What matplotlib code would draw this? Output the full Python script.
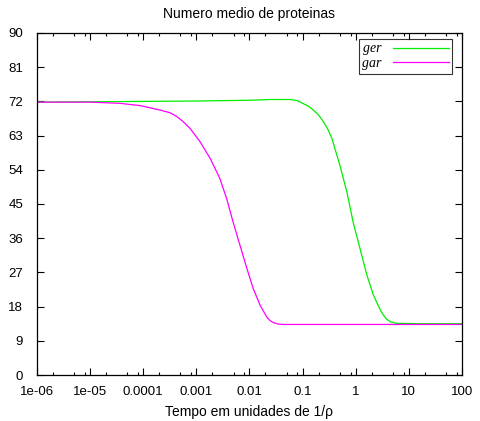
import matplotlib
matplotlib.use("Agg")
import matplotlib.pyplot as plt
from matplotlib.ticker import LogLocator, NullFormatter

# Data
gar_t = [1e-6, 1e-5, 3.6e-5, 8.7e-5, 2.1e-4, 3.2e-4, 4.3e-4, 5.6e-4, 7.6e-4,
         1.17e-3, 1.82e-3, 2.75e-3, 3.7e-3, 4.9e-3, 6.6e-3, 8.9e-3, 1.17e-2,
         1.58e-2, 1.85e-2, 2.1e-2, 2.4e-2, 2.8e-2, 3.5e-2, 4.4e-2, 0.1, 100]
gar_n = [71.8, 71.8, 71.5, 70.9, 69.7, 69.0, 68.0, 66.7, 64.9,
         61.4, 57.0, 51.8, 46.5, 40.3, 34.2, 28.1, 22.8,
         18.4, 16.7, 15.3, 14.4, 13.8, 13.4, 13.3, 13.3, 13.3]

ger_t = [1e-6, 1e-5, 1e-4, 1e-3, 1e-2, 0.025, 0.058, 0.08, 0.10, 0.13, 0.16,
         0.2, 0.245, 0.3, 0.355, 0.50, 0.68, 0.89, 1.2, 1.62, 2.14, 2.9, 3.3,
         3.8, 4.5, 5.9, 16, 100]
ger_n = [71.8, 71.9, 72.0, 72.1, 72.3, 72.5, 72.5, 72.2, 71.5, 70.7, 69.7,
         68.4, 66.7, 64.6, 62.3, 55.3, 48.2, 40.3, 33.3, 26.3, 21.1, 17.1, 15.8,
         14.7, 14.0, 13.6, 13.5, 13.5]

xticks = [1e-6, 1e-5, 1e-4, 1e-3, 1e-2, 1e-1, 1, 10, 100]
xticklabels = ["1e-06", "1e-05", "0.0001", "0.001", "0.01", "0.1", "1", "10", "100"]
yticks = [0, 9, 18, 27, 36, 45, 54, 63, 72, 81, 90]

plt.rcParams['font.family'] = ['Liberation Sans', 'DejaVu Sans']

fig = plt.figure(figsize=(4.8, 4.21), dpi=100)
ax = fig.add_axes([37/480, 46/421, (462-37)/480, (375-33)/421])

ax.plot(ger_t, ger_n, color='#00ee00', lw=0.9, label='ger')
ax.plot(gar_t, gar_n, color='#ff00ff', lw=0.9, label='gar')

ax.set_xscale('log')
ax.set_xlim(1e-6, 100)
ax.set_ylim(0, 90)
ax.set_xticks(xticks)
ax.set_xticklabels(xticklabels)
ax.xaxis.set_minor_locator(LogLocator(base=10, subs=[2, 5, 8], numticks=20))
ax.xaxis.set_minor_formatter(NullFormatter())
ax.set_yticks(yticks)

ax.tick_params(which='both', direction='in', top=True, right=True, labelsize=9.5)
ax.tick_params(axis='x', pad=8)
ax.tick_params(axis='y', pad=10)
ax.tick_params(which='major', length=5, width=0.8)
ax.tick_params(which='minor', length=2.5, width=0.8)
for s in ax.spines.values():
    s.set_linewidth(0.9)

ax.set_title("Numero medio de proteinas", fontsize=10, pad=11)
ax.set_xlabel("Tempo em unidades de 1/\u03c1", fontsize=10, labelpad=5)

leg = ax.legend(loc='upper right', bbox_to_anchor=(452/480, 1 - 39/421),
                bbox_transform=fig.transFigure,
                markerfirst=False, frameon=True, fancybox=False, handlelength=4.0,
                borderpad=0.25, labelspacing=0.12, handletextpad=0.8, borderaxespad=0,
                prop={'family': 'Liberation Serif', 'style': 'italic', 'size': 10})
leg.get_frame().set_edgecolor('black')
leg.get_frame().set_linewidth(0.8)

fig.savefig("out.png", dpi=100)
